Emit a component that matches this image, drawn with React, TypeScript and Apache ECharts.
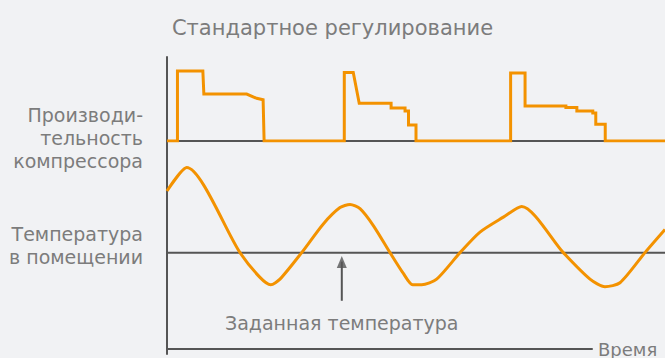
import React, { useEffect, useRef } from "react";
import * as echarts from "echarts";

const titleText = "Стандартное регулирование";
const compressorLabel = ["Производи-", "тельность", "компрессора"];
const temperatureLabel = ["Температура", "в помещении"];
const setpointLabel = "Заданная температура";
const timeLabel = "Время";

// time (0..100) , compressor capacity (%)
const compressorT = [0, 2.1, 2.1, 7.2, 7.4, 16, 18, 19.3, 19.5, 35.6, 35.6, 37.4, 38.6, 45, 45, 47.8, 47.8, 48.5, 48.5, 50, 50, 69, 69, 71.9, 71.9, 80.1, 80.1, 82.3, 82.3, 85.5, 85.5, 86.1, 86.1, 88, 88, 100];
const compressorV = [0, 0, 100, 100, 67, 67, 61, 59, 0, 0, 98, 98, 54, 54, 47, 47, 43, 43, 23, 23, 0, 0, 97, 97, 50, 50, 48, 48, 43, 43, 40, 40, 24, 24, 0, 0];

// time, room temperature deviation from setpoint
const temperatureT = [0, 3.95, 14.66, 18.67, 20.82, 22.69, 27.04, 31.39, 34.74, 36.75, 38.76, 41.43, 44.78, 47.46, 49.33, 51.14, 54.15, 58.84, 62.85, 67.54, 71.22, 79.58, 84.94, 87.95, 90.96, 95.98, 100];
const temperatureV = [2.19, 3.02, 0, -0.88, -1.14, -0.94, 0, 1.02, 1.6, 1.71, 1.56, 0.96, 0, -0.74, -1.14, -1.14, -0.94, 0, 0.73, 1.26, 1.64, 0, -0.94, -1.21, -1.07, 0, 0.82];

const setpointT = [0, 100];
const setpointV = [0, 0];
const arrowT = 35.1;
const arrowFrom = -1.71;
const arrowTo = -0.12;

const ORANGE = "#f39200";
const AXIS = "#555555";
const TEXT = "#7c7c7c";
const FONT = "DejaVu Sans";

export default function App() {
  const ref = useRef<HTMLDivElement>(null);
  useEffect(() => {
    if (!ref.current) return;
    const chart = echarts.init(ref.current, undefined, { renderer: "svg" });
    const hiddenAxis = {
      axisLabel: { show: false },
      axisTick: { show: false },
      splitLine: { show: false },
    };
    const labelFont = `19px ${FONT}`;
    const labelTexts: any[] = [];
    compressorLabel.forEach((s, i) =>
      labelTexts.push({
        type: "text",
        x: 143,
        y: 115 + i * 23,
        style: { text: s, textAlign: "right", textVerticalAlign: "middle", fill: TEXT, font: labelFont },
      })
    );
    temperatureLabel.forEach((s, i) =>
      labelTexts.push({
        type: "text",
        x: 143,
        y: 234 + i * 23,
        style: { text: s, textAlign: "right", textVerticalAlign: "middle", fill: TEXT, font: labelFont },
      })
    );
    labelTexts.push({
      type: "text",
      x: 225,
      y: 323,
      style: { text: setpointLabel, textAlign: "left", textVerticalAlign: "middle", fill: TEXT, font: labelFont },
    });
    chart.setOption({
      animation: false,
      backgroundColor: "#f1f2f4",
      title: {
        text: titleText,
        left: "center",
        top: 12,
        textStyle: { color: TEXT, fontSize: 21, fontWeight: "normal", fontFamily: FONT },
      },
      grid: [
        { left: 167, top: 57, width: 498, height: 84 },
        { left: 167, top: 140, width: 498, height: 214 },
        { left: 167, top: 300, width: 425, height: 54 },
      ],
      xAxis: [
        { type: "value", gridIndex: 0, min: 0, max: 100, ...hiddenAxis, axisLine: { show: true, lineStyle: { color: AXIS, width: 2 } } },
        { type: "value", gridIndex: 1, min: 0, max: 100, ...hiddenAxis, axisLine: { show: false } },
        {
          type: "value",
          gridIndex: 2,
          min: 0,
          max: 100,
          ...hiddenAxis,
          axisLine: { show: true, lineStyle: { color: AXIS, width: 2 } },
          name: timeLabel,
          nameLocation: "end",
          nameGap: 6,
          nameTextStyle: { color: TEXT, fontSize: 18, fontFamily: FONT, verticalAlign: "bottom", padding: [0, 0, -9, 0] },
        },
      ],
      yAxis: [
        { type: "value", gridIndex: 0, min: 0, max: 120, ...hiddenAxis, axisLine: { show: true, onZero: false, lineStyle: { color: AXIS, width: 2 } } },
        { type: "value", gridIndex: 1, min: -3.6, max: 4, ...hiddenAxis, axisLine: { show: true, onZero: false, lineStyle: { color: AXIS, width: 2 } } },
        { type: "value", gridIndex: 2, min: 0, max: 1, ...hiddenAxis, axisLine: { show: false } },
      ],
      graphic: labelTexts,
      series: [
        {
          type: "line",
          xAxisIndex: 0,
          yAxisIndex: 0,
          data: compressorT.map((t, i) => [t, compressorV[i]]),
          symbol: "none",
          lineStyle: { color: ORANGE, width: 3, join: "miter" },
          z: 5,
        },
        {
          type: "line",
          xAxisIndex: 1,
          yAxisIndex: 1,
          data: setpointT.map((t, i) => [t, setpointV[i]]),
          symbol: "none",
          lineStyle: { color: AXIS, width: 2 },
          z: 2,
        },
        {
          type: "line",
          xAxisIndex: 1,
          yAxisIndex: 1,
          data: [[arrowT, arrowFrom], [arrowT, arrowTo - 0.2]],
          symbol: "none",
          lineStyle: { color: AXIS, width: 2 },
          z: 2,
        },
        {
          type: "scatter",
          xAxisIndex: 1,
          yAxisIndex: 1,
          data: [[arrowT, arrowTo]],
          symbol: "triangle",
          symbolSize: [10, 12],
          symbolOffset: [0, 6],
          itemStyle: { color: AXIS },
          z: 3,
        },
        {
          type: "line",
          xAxisIndex: 1,
          yAxisIndex: 1,
          data: temperatureT.map((t, i) => [t, temperatureV[i]]),
          symbol: "none",
          smooth: 0.25,
          lineStyle: { color: ORANGE, width: 3 },
          z: 5,
        },
      ],
    });
    return () => chart.dispose();
  }, []);
  return <div ref={ref} style={{ position: "fixed", left: 0, top: 0, width: 665, height: 358 }} />;
}
